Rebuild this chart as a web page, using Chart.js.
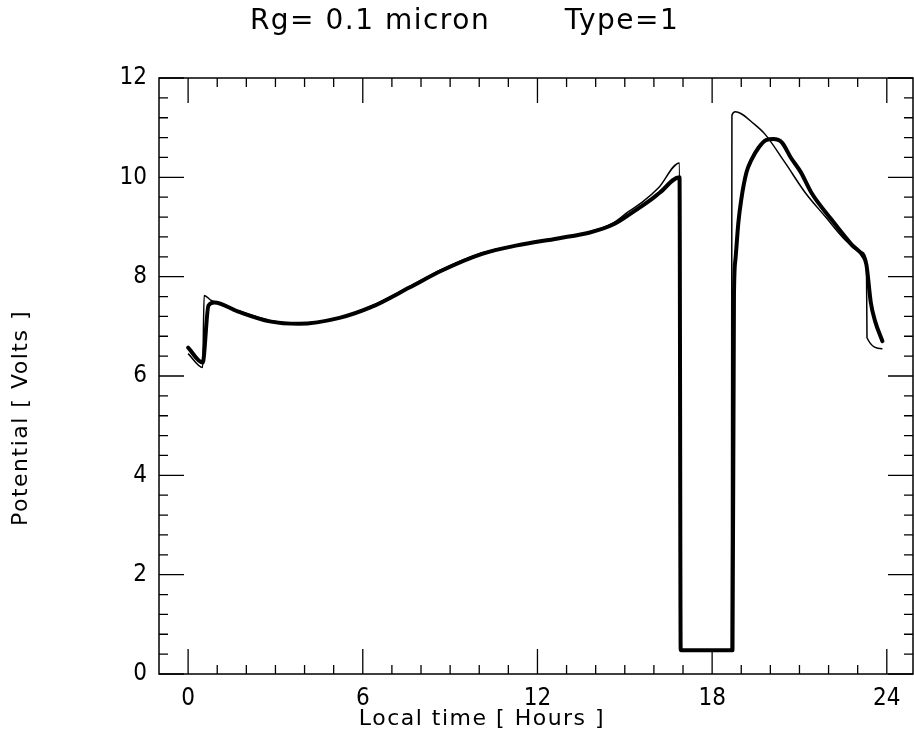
<!DOCTYPE html>
<html lang="en">
<head>
  <meta charset="UTF-8">
  <title>Rg= 0.1 micron  Type=1</title>
  <script src="https://cdn.jsdelivr.net/npm/chart.js"></script>
  <style>
    body { margin: 0; background: #fff; }
    #wrap { width: 914px; height: 736px; }
  </style>
</head>
<body>
  <div id="wrap"><canvas id="potChart" width="914" height="736"></canvas></div>

  <script>
    // values (hours, volts)
    const hoursThin = [0, 0.5, 0.55, 0.8, 1.7, 2.8, 3.8, 5.2, 6.3, 7.6, 8.7, 10.1, 11.3, 12.7, 13.8, 14.6, 15.1, 15.6, 16.16, 16.88,
      16.92, 18.66, 18.68, 18.8, 19.0, 19.35, 19.8, 20.5, 21.2, 21.9, 22.57, 23.1, 23.3, 23.32, 23.85];
    const potentialThin = [6.45, 6.17, 7.62, 7.52, 7.32, 7.12, 7.06, 7.18, 7.41, 7.8, 8.14, 8.48, 8.64, 8.78, 8.9, 9.08, 9.3, 9.5, 9.79, 10.29,
      0.48, 0.48, 11.25, 11.32, 11.28, 11.12, 10.88, 10.3, 9.69, 9.2, 8.74, 8.5, 8.34, 6.77, 6.55];

    const hoursThick = [0, 0.5, 0.7, 0.9, 1.7, 2.8, 3.8, 5.2, 6.3, 7.6, 8.7, 10.1, 11.3, 12.7, 13.8, 14.6, 15.2, 15.9, 16.2, 16.88,
      16.92, 18.7, 18.75, 18.8, 18.9, 19.0, 19.18, 19.35, 19.6, 19.85, 20.1, 20.4, 20.7, 21.05, 21.4, 22.1, 22.8, 23.2, 23.3, 23.45, 23.6, 23.85];
    const potentialThick = [6.57, 6.27, 7.42, 7.48, 7.3, 7.1, 7.05, 7.17, 7.39, 7.78, 8.12, 8.46, 8.63, 8.77, 8.89, 9.05, 9.27, 9.55, 9.69, 10.0,
      0.48, 0.48, 7.6, 8.34, 9.08, 9.55, 10.1, 10.35, 10.6, 10.75, 10.77, 10.7, 10.4, 10.1, 9.7, 9.15, 8.64, 8.4, 8.24, 7.48, 7.1, 6.7];

    const xTickLabels = [0, 6, 12, 18, 24];
    const yTickLabels = [0, 2, 4, 6, 8, 10, 12];

    const TICK_FONT = "'DejaVu Sans Condensed', 'DejaVu Sans', sans-serif";
    const TEXT_FONT = "'DejaVu Sans', sans-serif";

    function toPoints(xs, ys) {
      return xs.map((x, i) => ({ x: x, y: ys[i] }));
    }

    // frame, inward ticks on all four sides, title and axis titles
    const framePlugin = {
      id: 'frame',
      afterDraw(chart) {
        const { ctx, chartArea: a, scales } = chart;
        const xs = scales.x, ys = scales.y;
        ctx.save();
        ctx.strokeStyle = '#000';
        ctx.lineWidth = 1.5;
        ctx.strokeRect(a.left, a.top, a.right - a.left, a.bottom - a.top);

        ctx.lineWidth = 1.3;
        ctx.beginPath();
        for (let h = 0; h <= 24; h++) {
          const px = xs.getPixelForValue(h);
          const len = h % 6 === 0 ? 25 : 9;
          ctx.moveTo(px, a.bottom); ctx.lineTo(px, a.bottom - len);
          ctx.moveTo(px, a.top); ctx.lineTo(px, a.top + len);
        }
        for (let k = 0; k <= 30; k++) {
          const v = k * 0.4;
          const py = ys.getPixelForValue(v);
          const len = k % 5 === 0 ? 25 : 9;
          ctx.moveTo(a.left, py); ctx.lineTo(a.left + len, py);
          ctx.moveTo(a.right, py); ctx.lineTo(a.right - len, py);
        }
        ctx.stroke();

        ctx.fillStyle = '#000';
        ctx.textAlign = 'center';
        ctx.textBaseline = 'middle';

        ctx.font = '28px ' + TEXT_FONT;
        ctx.letterSpacing = '1.5px';
        ctx.fillText('Rg= 0.1 micron', 370, 22);
        ctx.fillText('Type=1', 622, 22);

        ctx.font = '22px ' + TEXT_FONT;
        ctx.letterSpacing = '1.5px';
        ctx.fillText('Local time [ Hours ]', 482, 719);
        ctx.translate(21, 418);
        ctx.rotate(-Math.PI / 2);
        ctx.fillText('Potential [ Volts ]', 0, 0);
        ctx.restore();
      }
    };

    new Chart(document.getElementById('potChart'), {
      type: 'line',
      data: {
        datasets: [
          {
            label: 'thick',
            data: toPoints(hoursThick, potentialThick),
            borderColor: '#000',
            borderWidth: 4,
            borderJoinStyle: 'round',
            borderCapStyle: 'round',
            pointRadius: 0,
            cubicInterpolationMode: 'monotone',
            fill: false
          },
          {
            label: 'thin',
            data: toPoints(hoursThin, potentialThin),
            borderColor: '#000',
            borderWidth: 1.5,
            pointRadius: 0,
            cubicInterpolationMode: 'monotone',
            fill: false
          }
        ]
      },
      options: {
        responsive: false,
        animation: false,
        layout: { padding: { left: 0, right: 1, top: 78, bottom: 0 } },
        plugins: {
          legend: { display: false },
          tooltip: { enabled: false },
          title: { display: false }
        },
        scales: {
          x: {
            type: 'linear',
            min: -1,
            max: 24.9,
            grid: { display: false, drawTicks: false },
            border: { display: false },
            afterBuildTicks(scale) { scale.ticks = xTickLabels.map(v => ({ value: v })); },
            afterFit(scale) { scale.height = 62; },
            ticks: {
              color: '#000',
              padding: 10,
              maxRotation: 0,
              font: { family: TICK_FONT, size: 24 }
            }
          },
          y: {
            type: 'linear',
            min: 0,
            max: 12,
            grid: { display: false, drawTicks: false },
            border: { display: false },
            afterBuildTicks(scale) { scale.ticks = yTickLabels.map(v => ({ value: v })); },
            afterFit(scale) { scale.width = 159; },
            ticks: {
              color: '#000',
              padding: 12,
              font: { family: TICK_FONT, size: 24 }
            }
          }
        }
      },
      plugins: [framePlugin]
    });
  </script>
</body>
</html>
